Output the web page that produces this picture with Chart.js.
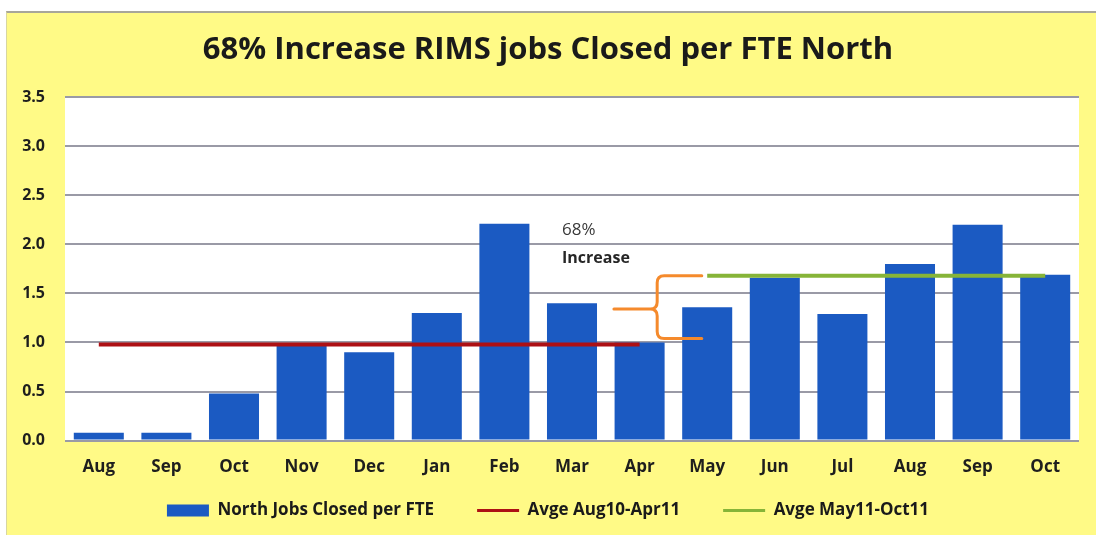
<!DOCTYPE html>
<html>
<head>
<meta charset="utf-8">
<script src="https://cdn.jsdelivr.net/npm/chart.js@4/dist/chart.umd.min.js"></script>
<style>
  html, body { margin: 0; padding: 0; background: #ffffff; }
  #frame {
    position: absolute; left: 6px; top: 11px; width: 1090px; height: 524px;
    background: #fffa86; border-top: 2px solid #a8a69a; border-left: 1px solid #d8d6a0;
    box-sizing: border-box;
  }
  #wrap { position: absolute; left: 0; top: 0; width: 1089px; height: 522px; }
</style>
</head>
<body>
<div id="frame"><div id="wrap"><canvas id="c"></canvas></div></div>
<script>
// Months from Aug 2010 to Oct 2011
const months = ['Aug', 'Sep', 'Oct', 'Nov', 'Dec', 'Jan', 'Feb', 'Mar', 'Apr', 'May', 'Jun', 'Jul', 'Aug', 'Sep', 'Oct'];
// North jobs closed per FTE, one value per month
const jobsPerFte = [0.08, 0.08, 0.48, 0.98, 0.90, 1.30, 2.21, 1.40, 1.00, 1.36, 1.66, 1.29, 1.80, 2.20, 1.69];
// Period averages and the month index ranges they cover
const avgBefore = 0.98;
const avgBeforeRange = [0, 8];
const avgAfter = 1.68;
const avgAfterRange = [9, 14];
const yTicks = [0, 0.5, 1.0, 1.5, 2.0, 2.5, 3.0, 3.5];
const increaseText = ['68%', 'Increase'];

function spanSeries(value, range) {
  return months.map((m, i) => (i >= range[0] && i <= range[1]) ? value : null);
}

const FONT = '"Open Sans", Lato, sans-serif';

// White plot background, bracket between the two averages and the increase note
const plotDecor = {
  id: 'plotDecor',
  beforeDraw(chart) {
    const { ctx, chartArea: a } = chart;
    ctx.save();
    ctx.fillStyle = '#ffffff';
    ctx.fillRect(a.left, a.top, a.right - a.left, a.bottom - a.top);
    ctx.restore();
  },
  afterDatasetsDraw(chart) {
    const { ctx, scales: { x, y } } = chart;
    const cat = x.getPixelForValue(1) - x.getPixelForValue(0);
    const xApr = x.getPixelForValue(avgBeforeRange[1]);
    const xMay = x.getPixelForValue(avgAfterRange[0]);
    const spine = xApr + cat * 0.26;
    const armEnd = xMay - cat * 0.08;
    const tip = xApr - cat * 0.38;
    const yTop = y.getPixelForValue(avgAfter);
    const yBot = y.getPixelForValue(avgBefore) - 6;
    const yMid = (yTop + yBot) / 2 + 2;
    const r = 7;

    ctx.save();
    ctx.strokeStyle = '#f58a2c';
    ctx.lineWidth = 3;
    ctx.lineCap = 'round';
    ctx.lineJoin = 'round';
    ctx.beginPath();
    ctx.moveTo(armEnd, yTop);
    ctx.lineTo(spine + r, yTop);
    ctx.quadraticCurveTo(spine, yTop, spine, yTop + r);
    ctx.lineTo(spine, yMid - r);
    ctx.quadraticCurveTo(spine, yMid, spine - r, yMid);
    ctx.lineTo(tip, yMid);
    ctx.moveTo(spine - r, yMid);
    ctx.quadraticCurveTo(spine, yMid, spine, yMid + r);
    ctx.lineTo(spine, yBot - r);
    ctx.quadraticCurveTo(spine, yBot, spine + r, yBot);
    ctx.lineTo(armEnd, yBot);
    ctx.stroke();

    // note text
    const tx = x.getPixelForValue(7) - 10;
    ctx.textAlign = 'left';
    ctx.textBaseline = 'middle';
    ctx.fillStyle = '#3a3a3a';
    ctx.font = '17px ' + FONT;
    ctx.fillText(increaseText[0], tx, y.getPixelForValue(2.14));
    ctx.fillStyle = '#262626';
    ctx.font = 'bold 16px ' + FONT;
    ctx.fillText(increaseText[1], tx, y.getPixelForValue(1.86));
    ctx.restore();
  }
};

new Chart(document.getElementById('c'), {
  data: {
    labels: months,
    datasets: [
      {
        type: 'bar',
        label: 'North Jobs Closed per FTE',
        data: jobsPerFte,
        backgroundColor: '#1b5ac2',
        borderWidth: 0,
        barPercentage: 0.74,
        categoryPercentage: 1.0,
        order: 2
      },
      {
        type: 'line',
        label: 'Avge Aug10-Apr11',
        data: spanSeries(avgBefore, avgBeforeRange),
        borderColor: '#ad1014',
        backgroundColor: '#ad1014',
        borderWidth: 4,
        pointRadius: 0,
        fill: false,
        order: 1
      },
      {
        type: 'line',
        label: 'Avge May11-Oct11',
        data: spanSeries(avgAfter, avgAfterRange),
        borderColor: '#86b438',
        backgroundColor: '#86b438',
        borderWidth: 4,
        pointRadius: 0,
        fill: false,
        order: 1
      }
    ]
  },
  options: {
    responsive: true,
    maintainAspectRatio: false,
    animation: false,
    layout: { padding: { left: 10, right: 17, top: 19, bottom: 6 } },
    plugins: {
      tooltip: { enabled: false },
      title: {
        display: true,
        text: '68% Increase RIMS jobs Closed per FTE North',
        color: '#1a1a1a',
        font: { family: FONT, size: 31, weight: 'bold' },
        padding: { top: 0, bottom: 28 }
      },
      legend: {
        position: 'bottom',
        labels: {
          color: '#1a1a1a',
          font: { family: FONT, size: 17, weight: 'bold' },
          usePointStyle: true,
          pointStyleWidth: 42,
          boxHeight: 12,
          padding: 9,
          sort: (a, b) => a.datasetIndex - b.datasetIndex,
          generateLabels(chart) {
            const items = Chart.defaults.plugins.legend.labels.generateLabels(chart);
            const last = chart.data.datasets.length - 1;
            return items.map(it => {
              const ds = chart.data.datasets[it.datasetIndex];
              if (ds.type === 'bar') {
                it.pointStyle = 'rect';
                it.fillStyle = ds.backgroundColor;
                it.lineWidth = 0;
              } else {
                it.pointStyle = 'line';
                it.strokeStyle = ds.borderColor;
                it.lineWidth = 3;
              }
              // extra room after every entry but the last
              if (it.datasetIndex !== last) it.text += '\u2003\u2003';
              return it;
            });
          }
        }
      }
    },
    scales: {
      x: {
        grid: { display: false, drawTicks: false },
        border: { display: false },
        ticks: { color: '#1e1e1e', font: { family: FONT, size: 17, weight: 'bold' }, padding: 16 }
      },
      y: {
        min: 0,
        max: 3.5,
        afterBuildTicks(axis) { axis.ticks = yTicks.map(v => ({ value: v })); },
        afterFit(axis) { axis.width = 48; },
        grid: { color: '#9a9aa6', lineWidth: 2, drawTicks: false },
        border: { display: false },
        ticks: {
          color: '#1e1e1e',
          font: { family: FONT, size: 16, weight: 'bold' },
          padding: 20,
          callback: v => Number(v).toFixed(1)
        }
      }
    }
  },
  plugins: [plotDecor]
});
</script>
</body>
</html>
